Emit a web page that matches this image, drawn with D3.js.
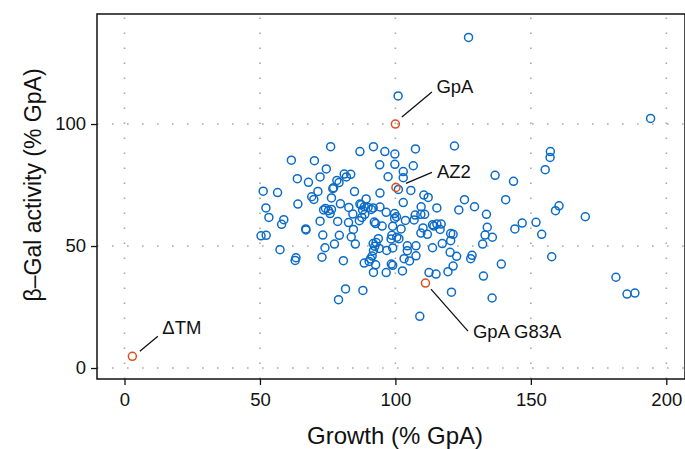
<!DOCTYPE html>
<html>
<head>
<meta charset="utf-8">
<script src="https://cdn.jsdelivr.net/npm/d3@7"></script>
<style>
  html, body { margin: 0; padding: 0; background: #fff; }
  svg { display: block; font-family: "Liberation Sans", Arial, Helvetica, sans-serif; }
</style>
</head>
<body>
<svg id="chart" width="685" height="449"></svg>
<script>
// Growth vs. beta-Gal activity for TM-domain variants (both as % of GpA)
const growth = [
  127.0, 101.0, 194.2, 76.1, 91.9, 121.8, 107.4, 86.9, 96.1, 99.8,
  157.2, 157.1, 61.6, 70.1, 94.2, 99.8, 106.6, 155.3, 74.5, 102.9,
  97.3, 102.9, 136.8, 143.6, 72.2, 63.8, 67.9, 81.1, 83.5, 81.9,
  78.4, 79.2, 77.2, 76.9, 71.4, 51.2, 56.5, 101.1, 105.7, 84.9,
  94.3, 110.5, 112.1, 69.1, 69.9, 76.4, 89.2, 125.5, 140.7, 64.0,
  79.7, 86.9, 102.9, 109.5, 115.3, 129.2, 160.4, 159.1, 123.4, 52.2,
  74.2, 73.5, 75.3, 76.4, 82.8, 87.4, 88.5, 89.9, 91.1, 91.8,
  94.3, 87.9, 84.3, 88.7, 87.6, 86.7, 75.9, 96.6, 99.7, 100.4,
  99.7, 107.3, 109.4, 110.8, 133.6, 53.3, 58.8, 58.0, 72.2, 78.7,
  82.7, 92.2, 92.7, 95.1, 99.0, 103.7, 106.9, 110.2, 113.7, 115.3,
  116.9, 114.2, 116.5, 120.4, 121.3, 102.1, 109.4, 111.8, 133.9, 133.1,
  135.8, 144.1, 146.8, 151.9, 154.0, 170.1, 66.9, 67.0, 84.5, 50.4,
  52.3, 73.2, 79.3, 83.7, 98.7, 98.4, 100.5, 101.3, 93.7, 91.8,
  92.9, 92.4, 85.2, 77.5, 104.4, 107.6, 117.3, 120.4, 132.2, 57.4,
  74.0, 99.0, 96.8, 91.9, 94.0, 104.4, 113.7, 120.2, 122.6, 128.3,
  127.8, 157.7, 63.3, 63.0, 72.9, 80.8, 91.4, 90.8, 90.3, 88.5,
  92.7, 98.5, 99.0, 103.2, 105.2, 107.6, 102.6, 91.9, 96.6, 112.4,
  115.0, 119.4, 121.3, 139.1, 132.5, 181.4, 81.6, 88.0, 120.7, 185.5,
  188.4, 79.0, 135.7, 109.0
];
const activity = [
  135.5, 111.5, 102.3, 90.7, 90.7, 91.0, 89.8, 88.7, 88.7, 87.7,
  88.7, 86.3, 85.2, 85.0, 83.3, 83.5, 82.9, 81.3, 81.6, 80.5,
  78.4, 78.0, 79.0, 76.5, 78.3, 77.6, 76.1, 79.5, 79.4, 78.3,
  76.9, 76.0, 73.9, 73.5, 72.4, 72.5, 71.9, 73.2, 72.8, 72.3,
  71.7, 70.9, 69.9, 70.2, 69.1, 69.7, 69.3, 69.0, 69.0, 67.2,
  67.3, 67.2, 67.8, 66.1, 65.6, 66.1, 66.5, 64.5, 64.8, 65.6,
  65.4, 64.8, 64.5, 65.0, 65.8, 66.9, 66.1, 65.8, 65.0, 65.6,
  66.0, 64.8, 63.1, 63.0, 61.7, 60.4, 63.3, 63.8, 63.3, 62.0,
  61.3, 62.7, 63.0, 63.0, 63.0, 61.7, 60.8, 58.9, 60.2, 60.1,
  59.6, 59.8, 59.2, 58.2, 58.1, 60.5, 60.7, 57.4, 58.7, 59.0,
  59.0, 58.2, 56.8, 55.1, 54.8, 57.0, 55.3, 54.8, 57.7, 54.5,
  53.6, 57.0, 59.4, 59.7, 54.8, 62.0, 57.0, 56.6, 56.8, 54.2,
  54.4, 54.5, 54.4, 53.7, 54.4, 52.9, 53.6, 53.0, 53.0, 51.0,
  51.4, 49.9, 50.8, 50.8, 50.1, 50.1, 51.0, 52.2, 50.8, 48.5,
  49.3, 49.2, 48.2, 48.1, 49.0, 48.1, 49.3, 47.4, 45.8, 46.2,
  44.8, 45.6, 45.2, 44.1, 45.4, 44.0, 45.9, 44.7, 43.7, 43.0,
  42.3, 42.6, 42.1, 44.8, 43.9, 46.0, 39.8, 39.2, 39.1, 39.1,
  38.5, 39.5, 41.8, 42.6, 37.7, 37.2, 32.4, 31.8, 31.1, 30.3,
  30.7, 28.0, 28.7, 21.2
];

// Reference constructs, highlighted and labelled
const refNames = ["GpA", "AZ2", "GpA G83A", "\u0394TM"];
const refGrowth = [100.0, 100.2, 111.1, 2.9];
const refActivity = [100.0, 74.0, 34.8, 4.8];

const xTicks = [0, 50, 100, 150, 200];
const yTicks = [0, 50, 100];

const svg = d3.select("#chart");
const plotL = 97, plotR = 685, plotT = 14, plotB = 379;

const x = d3.scaleLinear().domain([-10.15, 206.9]).range([plotL, plotR]);
const y = d3.scaleLinear().domain([-4.5, 145.1]).range([plotB, plotT]);

const blue = "#0b6bc8";
const red = "#dc4f1c";
const ink = "#111";

// dotted grid
const grid = svg.append("g").attr("stroke", "#a8a8a8").attr("stroke-width", 1.6)
  .attr("stroke-dasharray", "1.6,13.4");
grid.selectAll("line.v").data(xTicks).join("line").attr("class", "v")
  .attr("x1", d => x(d)).attr("x2", d => x(d))
  .attr("y1", plotB).attr("y2", plotT);
grid.selectAll("line.h").data(yTicks).join("line").attr("class", "h")
  .attr("y1", d => y(d)).attr("y2", d => y(d))
  .attr("x1", plotL).attr("x2", plotR);

// axes
const xAxis = svg.append("g").attr("transform", `translate(0,${plotB})`)
  .call(d3.axisBottom(x).tickValues(xTicks).tickSize(6).tickPadding(8).tickSizeOuter(0));
const yAxis = svg.append("g").attr("transform", `translate(${plotL},0)`)
  .call(d3.axisLeft(y).tickValues(yTicks).tickSize(6).tickPadding(5).tickSizeOuter(0));
[xAxis, yAxis].forEach(a => {
  a.select(".domain").remove();
  a.selectAll("line").attr("stroke", ink).attr("stroke-width", 1.3);
  a.selectAll("text").attr("font-size", 18.5).attr("fill", ink)
    .attr("font-family", "'Liberation Sans', Arial, sans-serif");
});

// plot frame
svg.append("rect")
  .attr("x", plotL).attr("y", plotT)
  .attr("width", plotR - plotL).attr("height", plotB - plotT)
  .attr("fill", "none").attr("stroke", ink).attr("stroke-width", 1.5);

// variant points
svg.append("g").selectAll("circle").data(d3.range(growth.length)).join("circle")
  .attr("cx", i => x(growth[i])).attr("cy", i => y(activity[i]))
  .attr("r", 4).attr("fill", "none")
  .attr("stroke", blue).attr("stroke-width", 1.5);

// reference points with leader lines and labels
const leader = [
  { l: [6.5, -7, 36.5, -32], t: [41, -31] },
  { l: [10, -4, 36, -15], t: [41, -9.5] },
  { l: [5.5, 6, 42.5, 48], t: [47.5, 55] },
  { l: [7.5, -5, 25.5, -20], t: [30, -22.5] }
];
const refs = svg.append("g");
refNames.forEach((name, i) => {
  const px = x(refGrowth[i]), py = y(refActivity[i]);
  const L = leader[i];
  refs.append("line")
    .attr("x1", px + L.l[0]).attr("y1", py + L.l[1])
    .attr("x2", px + L.l[2]).attr("y2", py + L.l[3])
    .attr("stroke", ink).attr("stroke-width", 1.3);
  refs.append("text")
    .attr("x", px + L.t[0]).attr("y", py + L.t[1])
    .attr("font-size", 18.5).attr("fill", ink)
    .text(name);
  refs.append("circle")
    .attr("cx", px).attr("cy", py).attr("r", 4)
    .attr("fill", "none").attr("stroke", red).attr("stroke-width", 1.5);
});

// axis titles
svg.append("text")
  .attr("x", 395).attr("y", 444)
  .attr("text-anchor", "middle").attr("font-size", 24).attr("fill", ink)
  .text("Growth (% GpA)");
svg.append("text")
  .attr("transform", `translate(41,185) rotate(-90)`)
  .attr("text-anchor", "middle").attr("font-size", 23).attr("fill", ink)
  .text("\u03b2\u2013Gal activity (% GpA)");
</script>
</body>
</html>
